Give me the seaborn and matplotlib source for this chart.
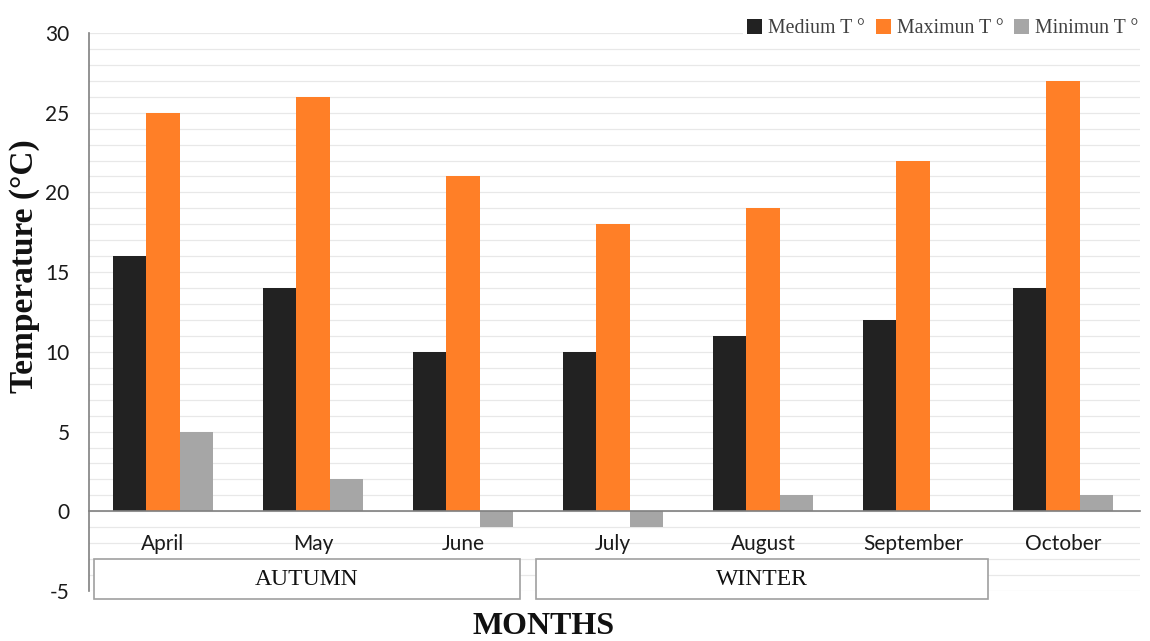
import matplotlib
matplotlib.use("Agg")
import matplotlib.pyplot as plt
from matplotlib.patches import Rectangle
import seaborn as sns
import pandas as pd

months = ["April", "May", "June", "July", "August", "September", "October"]
medium_t = [16, 14, 10, 10, 11, 12, 14]
maximum_t = [25, 26, 21, 18, 19, 22, 27]
minimum_t = [5, 2, -1, -1, 1, 0, 1]
series_names = ["Medium T °", "Maximun T °", "Minimun T °"]
seasons = ["AUTUMN", "WINTER"]
season_spans = [(-0.46, 2.38), (2.49, 5.50)]
colors = ["#222222", "#FF7F27", "#A6A6A6"]

rows = []
for name, vals in zip(series_names, [medium_t, maximum_t, minimum_t]):
    for m, v in zip(months, vals):
        rows.append({"month": m, "value": v, "series": name})
df = pd.DataFrame(rows)

sns.set_theme(style="white")
plt.rcParams["axes.unicode_minus"] = False
fig = plt.figure(figsize=(11.5, 6.41), dpi=100)
ax = fig.add_axes([89/1150, 1 - 591/641, (1140 - 89)/1150, (591 - 33)/641])

sns.barplot(data=df, x="month", y="value", hue="series", order=months,
            hue_order=series_names, palette=colors, saturation=1,
            width=0.667, ax=ax, legend=True, zorder=3, linewidth=0)

ax.set_xlim(-0.493, 6.513)
ax.set_ylim(-5, 30)
ax.set_yticks(range(-5, 31, 5))
ax.set_yticks(range(-5, 31, 1), minor=True)
ax.grid(True, axis="y", which="both", color="#E8E8E8", linewidth=0.9)
ax.set_axisbelow(True)
ax.xaxis.set_zorder(2)

for s in ["top", "right"]:
    ax.spines[s].set_visible(False)
ax.spines["left"].set_color("#808080")
ax.spines["left"].set_linewidth(1.2)
ax.spines["bottom"].set_position(("data", 0))
ax.spines["bottom"].set_color("#808080")
ax.spines["bottom"].set_linewidth(1.2)
ax.spines["bottom"].set_zorder(4)

tick_font = "Lato"
ax.tick_params(axis="x", length=0, pad=16, labelsize=15, labelcolor="#1a1a1a")
ax.tick_params(axis="y", which="both", length=0, pad=14, labelsize=15, labelcolor="#1a1a1a")
for lab in ax.get_xticklabels() + ax.get_yticklabels():
    lab.set_fontfamily(tick_font)
ax.set_xlabel("")
ax.set_ylabel("")

# season boxes
for name, (x0, x1) in zip(seasons, season_spans):
    rect = Rectangle((x0, -3.01), x1 - x0, -2.51, facecolor="white",
                     edgecolor="#A0A0A0", linewidth=1.2, clip_on=False, zorder=5)
    ax.add_patch(rect)
    ax.text((x0 + x1) / 2, -4.25, name, ha="center", va="center",
            fontfamily="Liberation Serif", fontsize=17, color="#111111",
            zorder=6, clip_on=False)

# legend
leg = ax.legend(loc="upper right", bbox_to_anchor=(1.012, 1.05), ncol=3,
                frameon=True, framealpha=1, facecolor="white", edgecolor="none",
                handlelength=0.75, handleheight=0.75, handletextpad=0.3,
                columnspacing=0.55, borderpad=0.2,
                prop={"family": "Liberation Serif", "size": 14.3})
for t in leg.get_texts():
    t.set_color("#404040")
leg.set_zorder(10)

fig.text(25/1150, 1 - 266/641, "Temperature (°C)", rotation=90, ha="center",
         va="center", fontfamily="Liberation Serif", fontweight="bold",
         fontsize=24, color="#111111")
fig.text(544/1150, 1 - 627/641, "MONTHS", ha="center", va="center",
         fontfamily="Liberation Serif", fontweight="bold", fontsize=23,
         color="#111111")

fig.savefig("out.png", dpi=100, facecolor="white")
